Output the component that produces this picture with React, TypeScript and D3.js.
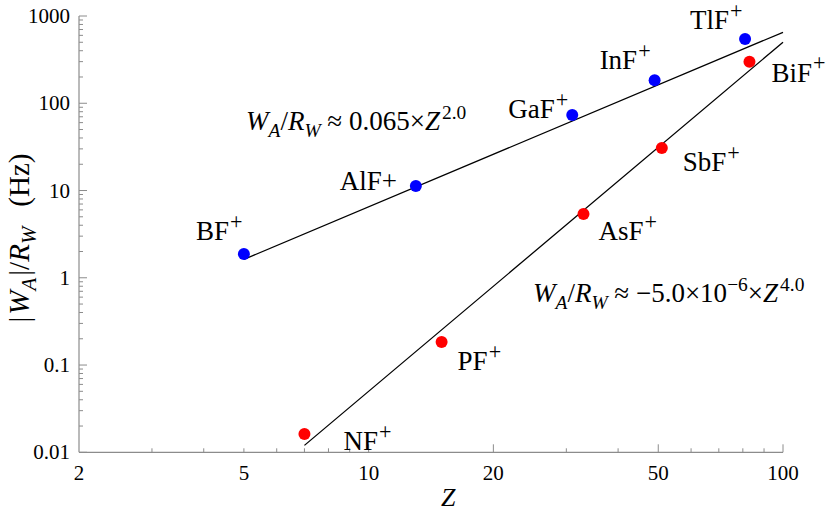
import React, { useEffect, useRef } from 'react'
import * as d3 from 'd3'

// group A (blue) and group B (red) molecular ions
const namesA = ['BF', 'AlF', 'GaF', 'InF', 'TlF']
const zA = [5, 13, 31, 49, 81]
const wA = [1.87, 11.3, 73.4, 183, 545]

const namesB = ['NF', 'PF', 'AsF', 'SbF', 'BiF']
const zB = [7, 15, 33, 51, 83]
const wB = [0.0162, 0.184, 5.38, 30.7, 299]

// fit lines: W = coef * Z^pow, drawn between zFrom and 100
const fitA = { coef: 0.065, pow: 2.0, zFrom: 5 }
const fitB = { coef: 5.0e-6, pow: 4.0, zFrom: 7 }

const xTickLabels = [2, 5, 10, 20, 50, 100]
const yTickLabels = ['0.01', '0.1', '1', '10', '100', '1000']

const W = 829
const H = 513
const FONT = "'Liberation Serif', 'Times New Roman', serif"

// label placement relative to the dot (text start, baseline)
const labelOffset = {
  BF: [-48, -14], AlF: [-76, 4], GaF: [-64, 3], InF: [-55, -11], TlF: [-55, -10],
  NF: [39, 16], PF: [16, 28], AsF: [15, 26], SbF: [21, 23], BiF: [22, 20]
}

type Seg = { t: string; it?: boolean; shift?: 'sub' | 'sup'; dx?: number }

const richText = (g, x, y, segs: Seg[], size, anchor = 'start', supScale = 0.72) => {
  const text = g.append('text')
    .attr('x', x).attr('y', y)
    .attr('text-anchor', anchor)
    .style('font-family', FONT)
    .style('font-size', size + 'px')
    .style('fill', '#000')
  let cur = 0
  segs.forEach(s => {
    let target = 0
    let fs = size
    if (s.shift === 'sub') { target = size * 0.25; fs = size * 0.72 }
    if (s.shift === 'sup') { target = -size * 0.42; fs = size * supScale }
    text.append('tspan')
      .attr('dy', target - cur)
      .attr('dx', s.dx || 0)
      .style('font-size', fs + 'px')
      .style('font-style', s.it ? 'italic' : 'normal')
      .text(s.t)
    cur = target
  })
  return text
}

const App = () => {
  const svgRef = useRef(null)

  useEffect(() => {
    const svg = d3.select(svgRef.current)
    svg.selectAll('*').remove()

    const x = d3.scaleLog().domain([2, 100]).range([79, 783])
    const y = d3.scaleLog().domain([0.01, 1000]).range([452.3, 16])

    const axisColor = '#8c8c8c'
    const g = svg.append('g')

    // axis lines
    g.append('line').attr('x1', x(2)).attr('x2', x(100)).attr('y1', y(0.01)).attr('y2', y(0.01))
      .style('stroke', axisColor).style('stroke-width', 1.2)
    g.append('line').attr('x1', x(2)).attr('x2', x(2)).attr('y1', y(0.01)).attr('y2', y(1000))
      .style('stroke', axisColor).style('stroke-width', 1.2)

    // x ticks
    const xMajor = [10, 20, 50, 100]
    const xMinor = d3.range(3, 10).concat(d3.range(30, 100, 10)).filter(v => !xMajor.includes(v))
    xMajor.forEach(v => {
      g.append('line').attr('x1', x(v)).attr('x2', x(v)).attr('y1', y(0.01)).attr('y2', y(0.01) - 8)
        .style('stroke', axisColor).style('stroke-width', 1)
    })
    xMinor.forEach(v => {
      g.append('line').attr('x1', x(v)).attr('x2', x(v)).attr('y1', y(0.01)).attr('y2', y(0.01) - 4)
        .style('stroke', axisColor).style('stroke-width', 1)
    })
    xTickLabels.forEach(v => {
      g.append('text')
        .attr('x', x(v)).attr('y', 480)
        .attr('text-anchor', 'middle')
        .style('font-family', FONT).style('font-size', '21px')
        .text(v)
    })

    // y ticks
    const decades = [0.01, 0.1, 1, 10, 100, 1000]
    decades.forEach((d, i) => {
      g.append('line').attr('x1', x(2)).attr('x2', x(2) + 8).attr('y1', y(d)).attr('y2', y(d))
        .style('stroke', axisColor).style('stroke-width', 1)
      if (i < decades.length - 1) {
        d3.range(2, 10).forEach(m => {
          g.append('line').attr('x1', x(2)).attr('x2', x(2) + 4).attr('y1', y(d * m)).attr('y2', y(d * m))
            .style('stroke', axisColor).style('stroke-width', 1)
        })
      }
      g.append('text')
        .attr('x', 70).attr('y', y(d)).attr('dy', '0.34em')
        .attr('text-anchor', 'end')
        .style('font-family', FONT).style('font-size', '21px')
        .text(yTickLabels[i])
    })

    // fit lines
    ;[fitA, fitB].forEach(f => {
      const pts = [f.zFrom, 100].map(z => [x(z), y(f.coef * Math.pow(z, f.pow))])
      g.append('path')
        .attr('d', d3.line()(pts))
        .style('fill', 'none').style('stroke', '#000').style('stroke-width', 1.3)
    })

    // points + labels
    const drawSet = (names, zs, ws, color) => {
      names.forEach((n, i) => {
        const cx = x(zs[i])
        const cy = y(ws[i])
        g.append('circle').attr('cx', cx).attr('cy', cy).attr('r', 6).style('fill', color)
        const [dx, dy] = labelOffset[n]
        const segs: Seg[] = n === 'AlF'
          ? [{ t: 'AlF+' }]
          : [{ t: n }, { t: '+', shift: 'sup', dx: 1 }]
        richText(g, cx + dx, cy + dy, segs, 27, 'start', 0.82)
      })
    }
    drawSet(namesA, zA, wA, '#0000ff')
    drawSet(namesB, zB, wB, '#ff0000')

    // fit formulas
    richText(g, 246, 130, [
      { t: 'W', it: true }, { t: 'A', it: true, shift: 'sub' }, { t: '/' },
      { t: 'R', it: true }, { t: 'W', it: true, shift: 'sub' },
      { t: ' ≈ 0.065×' }, { t: 'Z', it: true }, { t: '2.0', shift: 'sup', dx: 2 }
    ], 27)
    richText(g, 533, 302, [
      { t: 'W', it: true }, { t: 'A', it: true, shift: 'sub' }, { t: '/' },
      { t: 'R', it: true }, { t: 'W', it: true, shift: 'sub' },
      { t: ' ≈ −5.0×10' }, { t: '−6', shift: 'sup' }, { t: '×' },
      { t: 'Z', it: true }, { t: '4.0', shift: 'sup', dx: 2 }
    ], 27)

    // axis titles
    richText(g, 441, 506, [{ t: 'Z', it: true }], 26)
    const yl = richText(g, 0, 0, [
      { t: '|' }, { t: 'W', it: true, dx: 2 }, { t: 'A', it: true, shift: 'sub' }, { t: '|', dx: 2 },
      { t: '/' }, { t: 'R', it: true }, { t: 'W', it: true, shift: 'sub' }, { t: '(Hz)', dx: 20 }
    ], 29, 'middle')
    yl.attr('transform', 'translate(29,238) rotate(-90)')
  }, [])

  return (
    <div style={{ position: 'absolute', left: 0, top: 0, width: W, height: H, background: '#fff' }}>
      <svg ref={svgRef} width={W} height={H} />
    </div>
  )
}

export default App
